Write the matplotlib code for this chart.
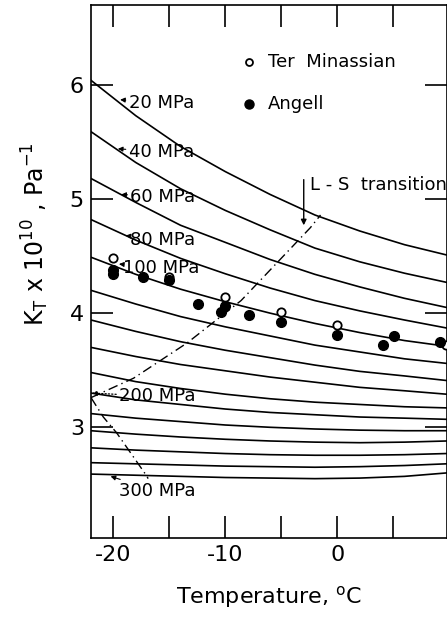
import matplotlib.pyplot as plt
import numpy as np

plt.rcParams['font.family'] = 'DejaVu Sans'
plt.rcParams['mathtext.default'] = 'regular'

# isobars, K_T x 1e10 (Pa^-1) against temperature (C)
temps = [-22, -18, -14, -10, -6, -2, 2, 6, 9.75]
pressures = [20, 40, 60, 80, 100, 120, 140, 160, 180, 200, 220, 240, 260, 280, 300]
isobars = [
    [6.04, 5.73, 5.46, 5.24, 5.04, 4.86, 4.72, 4.60, 4.51],
    [5.59, 5.32, 5.09, 4.90, 4.73, 4.57, 4.45, 4.35, 4.27],
    [5.18, 4.97, 4.77, 4.62, 4.47, 4.34, 4.23, 4.13, 4.05],
    [4.82, 4.64, 4.48, 4.345, 4.22, 4.11, 4.02, 3.94, 3.87],
    [4.49, 4.34, 4.21, 4.10, 4.00, 3.91, 3.83, 3.76, 3.71],
    [4.20, 4.08, 3.97, 3.88, 3.80, 3.72, 3.66, 3.60, 3.56],
    [3.94, 3.84, 3.75, 3.675, 3.61, 3.545, 3.49, 3.45, 3.41],
    [3.70, 3.62, 3.55, 3.495, 3.44, 3.395, 3.35, 3.32, 3.29],
    [3.48, 3.40, 3.34, 3.29, 3.25, 3.22, 3.20, 3.18, 3.17],
    [3.30, 3.24, 3.20, 3.16, 3.13, 3.11, 3.09, 3.08, 3.07],
    [3.12, 3.08, 3.05, 3.02, 3.00, 2.985, 2.975, 2.97, 2.97],
    [2.97, 2.94, 2.915, 2.895, 2.88, 2.87, 2.865, 2.87, 2.88],
    [2.82, 2.80, 2.785, 2.77, 2.76, 2.755, 2.755, 2.76, 2.77],
    [2.69, 2.68, 2.67, 2.66, 2.655, 2.65, 2.655, 2.665, 2.68],
    [2.59, 2.58, 2.57, 2.56, 2.555, 2.55, 2.555, 2.57, 2.60],
]

# measurements
ter_t = [-20, -15, -10, -5, 0, 9.7]
ter_k = [4.48, 4.32, 4.14, 4.01, 3.90, 3.72]
angell_t = [-20, -20, -17.4, -15, -12.4, -10.4, -10, -7.9, -5, 0, 4.1, 5.1, 9.2]
angell_k = [4.38, 4.34, 4.32, 4.29, 4.08, 4.01, 4.06, 3.98, 3.92, 3.81, 3.72, 3.80, 3.75]

# liquid-solid boundaries (ice I and ice III)
ice1_t = [-22, -18.2, -13.4, -8.6, -2.4, -1.5]
ice1_k = [3.26, 3.43, 3.74, 4.11, 4.75, 4.86]
ice3_t = [-22, -20.9, -19.7, -17.0, -16.9]
ice3_k = [3.26, 3.09, 2.95, 2.57, 2.55]

# isobar labels: (pressure, text position, arrow tip)
labels = [
    (20, (-18.65, 5.845), (-19.4, 5.87)),
    (40, (-18.65, 5.415), (-19.6, 5.44)),
    (60, (-18.5, 5.02), (-19.3, 5.04)),
    (80, (-18.5, 4.64), (-18.9, 4.68)),
    (100, (-19.1, 4.40), (-19.5, 4.43)),
]

fig = plt.figure(figsize=(4.47, 6.20), dpi=100)
ax = fig.add_axes([91 / 447, 1 - 538 / 620, 355.5 / 447, 533 / 620])

for row in isobars:
    ax.plot(temps, row, color='black', lw=1.2)

ax.plot(ice1_t, ice1_k, color='black', lw=1.0, linestyle=(0, (7, 3, 1, 3)))
ax.plot(ice3_t, ice3_k, color='black', lw=1.0, linestyle=(0, (7, 3, 1, 3)))

ax.plot(ter_t, ter_k, 'o', mfc='white', mec='black', ms=6, mew=1.3, zorder=3)
ax.plot(angell_t, angell_k, 'o', color='black', ms=7, zorder=4)

for p, txt_pos, tip in labels:
    ax.annotate(f'{p} MPa', xy=tip, xytext=txt_pos, fontsize=13, ha='left', va='center',
                arrowprops=dict(arrowstyle='-|>', lw=0.8, color='black',
                                mutation_scale=7, shrinkA=0, shrinkB=0))
ax.annotate('200 MPa', xy=(-21.9, 3.30), xytext=(-19.5, 3.27), fontsize=13, ha='left',
            va='center', arrowprops=dict(arrowstyle='-|>', lw=0.9, ls=':', color='black',
                                         mutation_scale=7, shrinkA=0, shrinkB=0))
ax.annotate('300 MPa', xy=(-20.25, 2.57), xytext=(-19.5, 2.44), fontsize=13, ha='left',
            va='center', arrowprops=dict(arrowstyle='-|>', lw=0.8, color='black',
                                         mutation_scale=7, shrinkA=0, shrinkB=0))

# L-S transition marker
ax.annotate('', xy=(-3.0, 4.77), xytext=(-3.0, 5.17),
            arrowprops=dict(arrowstyle='-|>', lw=1.0, color='black',
                            mutation_scale=8, shrinkA=0, shrinkB=0))
ax.text(-2.4, 5.12, 'L - S  transition', fontsize=13, ha='left', va='center')

# key
ax.plot([-7.9], [6.20], 'o', mfc='white', mec='black', ms=5, mew=1.3)
ax.plot([-7.9], [5.83], 'o', color='black', ms=6.5)
ax.text(-6.2, 6.20, 'Ter  Minassian', fontsize=13, ha='left', va='center')
ax.text(-6.2, 5.83, 'Angell', fontsize=13, ha='left', va='center')

ax.set_xlim(-22, 9.75)
ax.set_ylim(2.03, 6.70)
ax.set_xticks([-20, -15, -10, -5, 0, 5])
ax.set_xticklabels(['-20', '', '-10', '', '0', ''])
ax.set_yticks([3, 4, 5, 6])
ax.tick_params(direction='in', length=16, width=1.2, top=True, right=True,
               labelsize=16, pad=5)
for s in ax.spines.values():
    s.set_linewidth(1.2)

ax.set_xlabel('Temperature, $^{o}$C', fontsize=16, labelpad=14)
ax.text(-0.157, 0.57, r'K$_{T}$ x 10$^{10}$ , Pa$^{-1}$', transform=ax.transAxes,
        rotation=90, fontsize=17, ha='center', va='center')

fig.savefig('out.png', dpi=100)
